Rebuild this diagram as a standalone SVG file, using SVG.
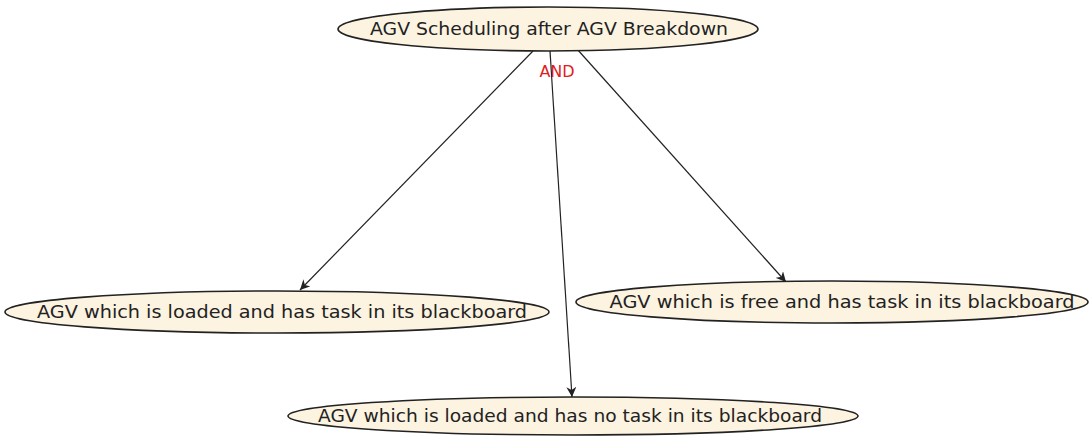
<svg xmlns="http://www.w3.org/2000/svg" width="1090" height="437" viewBox="0 0 1090 437">
<defs>
<style>
.node ellipse{fill:#fcf3e1;stroke:#222;stroke-width:1.6}
.node text{font-family:"DejaVu Sans","Liberation Sans",sans-serif;font-size:17.5px;fill:#222;text-anchor:middle}
.edge{stroke:#222;stroke-width:1.2;fill:none;marker-end:url(#arr)}
.lbl{font-family:"DejaVu Sans","Liberation Sans",sans-serif;font-size:16px;fill:#e02020;text-anchor:middle}
</style>
<marker id="arr" viewBox="0 0 10 10" refX="10" refY="5" markerWidth="10" markerHeight="10" markerUnits="userSpaceOnUse" orient="auto">
<path d="M0,0 L10,5 L0,10 L3,5 z" fill="#222"/>
</marker>
</defs>
<rect width="1090" height="437" fill="#fff"/>
<g id="connectors">
<line class="edge" x1="533" y1="51" x2="300" y2="290"/>
<line class="edge" x1="550" y1="51" x2="572" y2="397"/>
<line class="edge" x1="577" y1="49" x2="786" y2="282"/>
<text class="lbl" x="557" y="77">AND</text>
</g>
<g id="n_root" class="node">
<ellipse cx="548" cy="29" rx="210" ry="22"/>
<text x="549" y="35" textLength="358" lengthAdjust="spacingAndGlyphs">AGV Scheduling after AGV Breakdown</text>
</g>
<g id="n_loaded_task" class="node">
<ellipse cx="277" cy="312" rx="272" ry="21"/>
<text x="282" y="318" textLength="490" lengthAdjust="spacingAndGlyphs">AGV which is loaded and has task in its blackboard</text>
</g>
<g id="n_free_task" class="node">
<ellipse cx="832" cy="302" rx="256" ry="21"/>
<text x="842" y="308" textLength="465" lengthAdjust="spacingAndGlyphs">AGV which is free and has task in its blackboard</text>
</g>
<g id="n_loaded_notask" class="node">
<ellipse cx="573" cy="416" rx="285" ry="19"/>
<text x="570" y="422" textLength="504" lengthAdjust="spacingAndGlyphs">AGV which is loaded and has no task in its blackboard</text>
</g>
</svg>
